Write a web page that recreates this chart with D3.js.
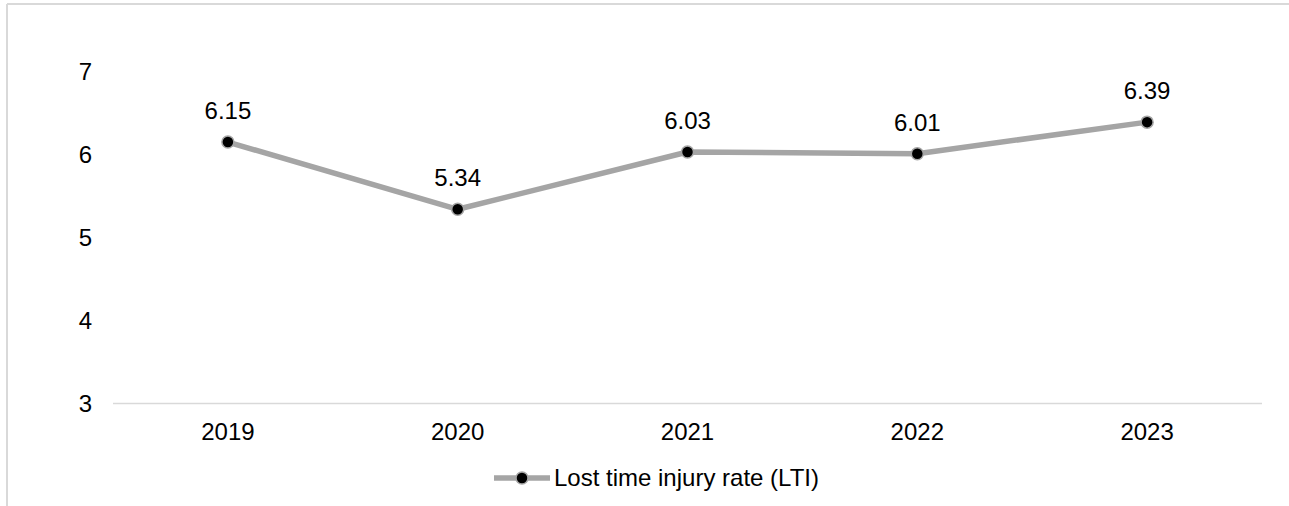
<!DOCTYPE html>
<html>
<head>
<meta charset="utf-8">
<script src="https://cdn.jsdelivr.net/npm/d3@7"></script>
<style>
  html, body { margin: 0; padding: 0; background: #fff; }
  svg { display: block; font-family: Arial, "Liberation Sans", sans-serif; }
</style>
</head>
<body>
<svg id="chart" width="1289" height="506"></svg>
<script>
// Lost time injury rate by year
const years = ["2019", "2020", "2021", "2022", "2023"];
const ltiRates = [6.15, 5.34, 6.03, 6.01, 6.39];
const yTicks = [3, 4, 5, 6, 7];
const seriesName = "Lost time injury rate (LTI)";

const svg = d3.select("#chart");
const W = 1289, H = 506;

const lineColor = "#a5a5a5";
const frameColor = "#d9d9d9";
const fontSize = 24;

// Outer frame (top and left edges)
svg.append("line").attr("x1", 7).attr("x2", W).attr("y1", 4).attr("y2", 4)
  .attr("stroke", frameColor).attr("stroke-width", 2);
svg.append("line").attr("x1", 7).attr("x2", 7).attr("y1", 4).attr("y2", H)
  .attr("stroke", frameColor).attr("stroke-width", 2);

const x = d3.scaleBand().domain(years).range([113, 1262]);
const y = d3.scaleLinear().domain([3, 7]).range([403.5, 71.5]);

// Y axis labels
const yAxis = d3.axisLeft(y).tickValues(yTicks).tickSize(0).tickPadding(0).tickFormat(d3.format("d"));
const yg = svg.append("g").attr("transform", "translate(92,0)").call(yAxis);
yg.select(".domain").remove();
yg.selectAll("text").attr("font-size", fontSize).attr("fill", "#000")
  .attr("font-family", "Arial, 'Liberation Sans', sans-serif");

// X axis with baseline
const xAxis = d3.axisBottom(x).tickSize(0).tickPadding(0);
const xg = svg.append("g").attr("transform", `translate(0,${y(3)})`).call(xAxis);
xg.select(".domain").attr("stroke", frameColor).attr("stroke-width", 1.5)
  .attr("d", `M${x.range()[0]},0H${x.range()[1]}`);
xg.selectAll("text").attr("font-size", fontSize).attr("fill", "#000")
  .attr("font-family", "Arial, 'Liberation Sans', sans-serif")
  .attr("y", 19).attr("dy", "0.71em");

const cx = d => x(d) + x.bandwidth() / 2;
const pts = years.map((yr, i) => ({ yr, v: ltiRates[i] }));

// Series line
svg.append("path").datum(pts)
  .attr("fill", "none").attr("stroke", lineColor).attr("stroke-width", 5.5)
  .attr("stroke-linejoin", "round")
  .attr("d", d3.line().x(d => cx(d.yr)).y(d => y(d.v)));

// Markers
svg.selectAll("circle.pt").data(pts).join("circle").attr("class", "pt")
  .attr("cx", d => cx(d.yr)).attr("cy", d => y(d.v)).attr("r", 6)
  .attr("fill", "#000").attr("stroke", lineColor).attr("stroke-width", 1.5);

// Value labels
svg.selectAll("text.val").data(pts).join("text").attr("class", "val")
  .attr("x", d => cx(d.yr)).attr("y", d => y(d.v) - 23)
  .attr("text-anchor", "middle").attr("font-size", fontSize).attr("fill", "#000")
  .text(d => d.v.toFixed(2));

// Legend
const lg = svg.append("g").attr("transform", "translate(494,478)");
lg.append("line").attr("x1", 0).attr("x2", 56).attr("y1", 0).attr("y2", 0)
  .attr("stroke", lineColor).attr("stroke-width", 5.5);
lg.append("circle").attr("cx", 28).attr("cy", 0).attr("r", 6)
  .attr("fill", "#000").attr("stroke", lineColor).attr("stroke-width", 1.5);
lg.append("text").attr("x", 60).attr("y", 0).attr("dy", "0.35em")
  .attr("font-size", fontSize).attr("fill", "#000").text(seriesName);
</script>
</body>
</html>
